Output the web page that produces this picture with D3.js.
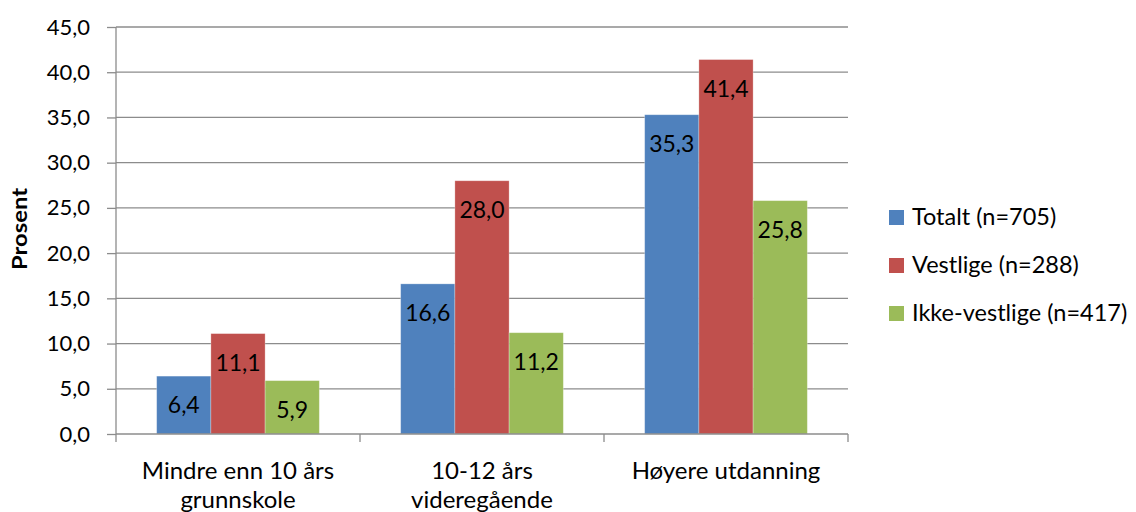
<!DOCTYPE html>
<html>
<head>
<meta charset="utf-8">
<script src="https://cdn.jsdelivr.net/npm/d3@7"></script>
<style>
  html, body { margin: 0; padding: 0; background: #fff; }
  svg { display: block; font-family: Lato, "Open Sans", sans-serif; }
</style>
</head>
<body>
<svg id="chart" width="1136" height="512"></svg>
<script>
// Education level by background group, percent
const categories = [["Mindre enn 10 års", "grunnskole"], ["10-12 års", "videregående"], ["Høyere utdanning"]];
const seriesNames = ["Totalt (n=705)", "Vestlige (n=288)", "Ikke-vestlige (n=417)"];
const totalt = [6.4, 16.6, 35.3];
const vestlige = [11.1, 28.0, 41.4];
const ikkeVestlige = [5.9, 11.2, 25.8];
const yTicks = [0, 5, 10, 15, 20, 25, 30, 35, 40, 45];
const colors = ["#4F81BD", "#C0504D", "#9BBB59"];

const series = [totalt, vestlige, ikkeVestlige];
const svg = d3.select("#chart");
const margin = { left: 116, right: 288, top: 27, bottom: 78 };
const W = 1136, H = 512;
const plotW = W - margin.left - margin.right;
const plotH = H - margin.top - margin.bottom;
const fmt = v => v.toFixed(1).replace(".", ",");
const gridColor = "#8c8c8c";

const x = d3.scaleBand().domain(d3.range(categories.length)).range([0, plotW]);
const y = d3.scaleLinear().domain([0, 45]).range([plotH, 0]);
const bw = x.bandwidth() / 4.5;   // 150% gap between groups
const sub = d3.scaleBand().domain(d3.range(series.length)).range([bw * 0.75, bw * 3.75]);

const g = svg.append("g").attr("transform", `translate(${margin.left},${margin.top})`);

// horizontal gridlines
g.append("g").selectAll("line").data(yTicks.filter(t => t > 0)).join("line")
  .attr("x1", 0).attr("x2", plotW)
  .attr("y1", d => y(d)).attr("y2", d => y(d))
  .attr("stroke", gridColor).attr("stroke-width", 1.3);

// y axis
const yAxis = g.append("g").call(d3.axisLeft(y).tickValues(yTicks).tickFormat(fmt).tickSize(9).tickPadding(17));
yAxis.select(".domain").attr("stroke", gridColor).attr("stroke-width", 1.3).attr("d", `M0,0V${plotH}`);
yAxis.selectAll(".tick line").attr("stroke", gridColor).attr("stroke-width", 1.3);
yAxis.selectAll(".tick text").attr("font-size", 22).attr("fill", "#000").attr("font-family", "Lato, sans-serif");

// bars with value labels
series.forEach((vals, si) => {
  const gs = g.append("g");
  gs.selectAll("rect").data(vals).join("rect")
    .attr("x", (d, i) => x(i) + sub(si))
    .attr("width", sub.bandwidth())
    .attr("y", d => y(d))
    .attr("height", d => plotH - y(d))
    .attr("fill", colors[si])
    .attr("stroke", "rgba(255,255,255,0.35)").attr("stroke-width", 0.8);
  gs.selectAll("text").data(vals).join("text")
    .attr("x", (d, i) => x(i) + sub(si) + sub.bandwidth() / 2)
    .attr("y", d => y(d) + 37)
    .attr("text-anchor", "middle")
    .attr("font-size", 23).attr("fill", "#000")
    .text(fmt);
});

// x axis line and ticks
g.append("line").attr("x1", 0).attr("x2", plotW).attr("y1", plotH).attr("y2", plotH)
  .attr("stroke", gridColor).attr("stroke-width", 1.3);
g.append("g").selectAll("line").data(d3.range(categories.length + 1)).join("line")
  .attr("x1", d => d * x.step()).attr("x2", d => d * x.step())
  .attr("y1", plotH).attr("y2", plotH + 8)
  .attr("stroke", gridColor).attr("stroke-width", 1.3);

// category labels
categories.forEach((lines, i) => {
  const cx = x(i) + x.bandwidth() / 2;
  const t = g.append("text").attr("text-anchor", "middle").attr("font-size", 24).attr("fill", "#000")
    .attr("x", cx).attr("y", plotH + 45);
  lines.forEach((l, k) => t.append("tspan").attr("x", cx).attr("dy", k ? 29 : 0).text(l));
});

// y axis title
svg.append("text").attr("transform", `translate(27,${margin.top + 202}) rotate(-90)`)
  .attr("text-anchor", "middle").attr("font-size", 21).attr("font-weight", "bold")
  .attr("textLength", 82).attr("lengthAdjust", "spacingAndGlyphs").text("Prosent");

// legend
const lg = svg.append("g").attr("transform", "translate(889,217)");
seriesNames.forEach((n, i) => {
  lg.append("rect").attr("x", 0).attr("y", i * 48 - 7).attr("width", 15).attr("height", 15).attr("fill", colors[i]);
  lg.append("text").attr("x", 23).attr("y", i * 48 + 8).attr("font-size", 23.5).attr("fill", "#000").text(n);
});
</script>
</body>
</html>
